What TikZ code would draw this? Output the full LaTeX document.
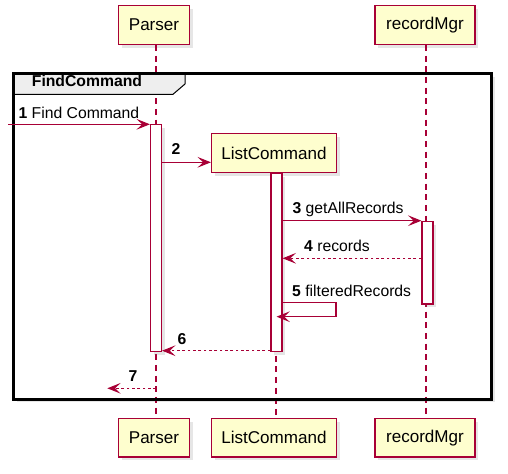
\documentclass[tikz,border=0pt]{standalone}
\usepackage{fontspec}
\setmainfont{Liberation Sans}
\usetikzlibrary{arrows.meta,positioning,shadows}
\definecolor{umlred}{HTML}{A80036}
\definecolor{umlfill}{HTML}{FEFECE}
\definecolor{tabgray}{HTML}{EEEEEE}

\begin{document}
\begin{tikzpicture}[x=0.75pt, y=-0.75pt, >={Stealth[length=10pt,width=8pt,inset=4.2pt]}, semithick]
\tikzstyle{every node}=[font=\fontsize{11.8}{14}\selectfont]
\tikzstyle{castshadow}=[drop shadow={shadow xshift=2.5pt,shadow yshift=-2.5pt,opacity=0.2}]
\tikzstyle{participant}=[draw=umlred,fill=umlfill,line width=0.9pt,castshadow,minimum height=29pt,inner sep=0pt,font=\fontsize{12.8}{15}\selectfont]
\tikzstyle{lifeline}=[draw=umlred,line width=0.9pt,dash pattern=on 4.5pt off 3.5pt]
\tikzstyle{actbar}=[draw=umlred,fill=white,line width=0.9pt,castshadow,minimum width=8.25pt,inner sep=0pt,anchor=north]
\tikzstyle{msg}=[->,draw=umlred,line width=0.9pt]
\tikzstyle{reply}=[msg,dash pattern=on 2pt off 2pt]
\tikzstyle{lbl}=[anchor=base west,inner sep=0pt,text=black]
\useasboundingbox (0,0) rectangle (508,474);

% group frame (background and shadow)
\node[fill=white,castshadow,inner sep=0pt,anchor=north west,minimum width=358.1pt,minimum height=243.6pt] (grp) at (13.5,73.5) {};

% lifelines
\coordinate (xP) at (156,0);
\coordinate (xL) at (276,0);
\coordinate (xM) at (426,0);
\node[participant, minimum width=53.25pt] (parserTop) at (154,25) {Parser};
\node[participant, minimum width=75pt]    (mgrTop)    at (425,25) {recordMgr};
\node[participant, minimum width=53.25pt] (parserBot) at (154,437.6) {Parser};
\node[participant, minimum width=93.75pt] (lcBot)     at (274,437.6) {ListCommand};
\node[participant, minimum width=75pt]    (mgrBot)    at (425,437.6) {recordMgr};
\draw[lifeline] (parserTop.south -| xP) -- (parserBot.north -| xP);
\draw[lifeline] (mgrTop.south -| xM) -- (mgrBot.north -| xM);
\draw[lifeline] (273,153 -| xL) -- (lcBot.north -| xL);

% group tab and border
\path[fill=tabgray,draw=black,line width=0.75pt] (grp.north west) -- ++(171.5,0) -- ++(0,10.5) -- ++(-12,10.3) -- ++(-159.5,0) -- cycle;
\node[lbl,font=\fontsize{11.8}{14}\selectfont\bfseries] (grpTitle) at (31.5,86.7) {FindCommand};
\draw[black,line width=2.2pt] (grp.north west) rectangle (grp.south east);

% created participant
\node[participant, minimum width=93.75pt] (lcBox) at (274,153) {ListCommand};

% activations
\node[actbar, minimum height=169.8pt] (actP) at (156,124.3) {};
\node[actbar, minimum height=133.5pt] (actL) at (276.5,172.7) {};
\node[actbar, minimum height=62pt]    (actM) at (427.5,220.7) {};

% messages
\coordinate (in1) at (8,124.3);
\coordinate (y2) at (0,162.3);
\coordinate (y3) at (0,220.7);
\coordinate (y4) at (0,258.3);
\coordinate (loop5) at (336,302.7);
\coordinate (back5) at (336,316.7);
\coordinate (y6) at (0,350.7);
\coordinate (out7) at (107.3,388.3);

\draw[msg] (in1) -- (actP.west |- in1) node[lbl, at start, xshift=7.5pt, yshift=4.5pt] {\textbf{1} Find Command};
\draw[msg] (actP.east |- y2) -- (lcBox.west |- y2) node[lbl, at start, xshift=6.75pt, yshift=6pt] {\textbf{2}};
\draw[msg] (actL.east |- y3) -- (actM.west |- y3) node[lbl, at start, xshift=7pt, yshift=5.5pt] {\textbf{3} getAllRecords};
\draw[reply] (actM.west |- y4) -- (actL.east |- y4) node[lbl, at end, xshift=15.75pt, yshift=5pt] {\textbf{4} records};
\draw[msg] (actL.east |- loop5) node[lbl, xshift=6.75pt, yshift=4.5pt] {\textbf{5} filteredRecords} -- (loop5) -- (back5) -- (actL.center |- back5);
\draw[reply] (actL.west |- y6) -- (actP.east |- y6) node[lbl, at end, xshift=11.25pt, yshift=5pt] {\textbf{6}};
\draw[reply] (xP |- out7) -- (out7) node[lbl, at end, xshift=15.5pt, yshift=5pt] {\textbf{7}};
\end{tikzpicture}
\end{document}
